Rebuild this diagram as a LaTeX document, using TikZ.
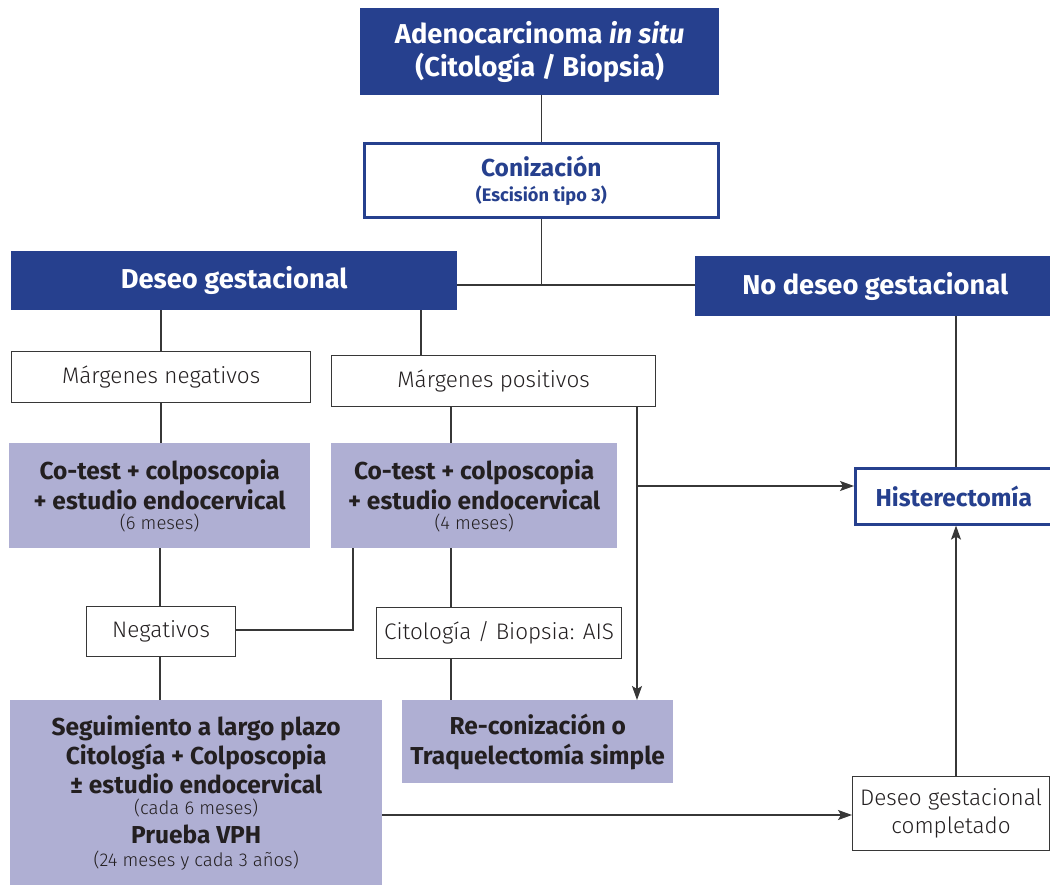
\documentclass[tikz,border=0pt]{standalone}
\usepackage{fontspec}
\setmainfont{Fira Sans}
\newfontfamily\lightfont{Fira Sans Light}
\usetikzlibrary{arrows.meta}
\definecolor{navy}{RGB}{38,64,142}
\definecolor{lav}{RGB}{175,175,211}
\definecolor{ink}{RGB}{35,31,32}
\definecolor{wire}{RGB}{55,55,55}
\newcommand{\fs}[2]{\fontsize{#1}{#2}\selectfont}
\newcommand{\smalltxt}{\lightfont\mdseries\fs{18.5}{22}}
\tikzset{
  box/.style={rectangle, inner sep=0pt, align=center, anchor=north west},
  headbox/.style={box, fill=navy, text=white, font=\bfseries\fs{27.3}{33}},
  keybox/.style={box, fill=white, draw=navy, line width=2.6pt, text=navy, font=\bfseries\fs{24.5}{30}},
  plainbox/.style={box, fill=white, draw=wire, line width=1.2pt, text=ink, font=\lightfont\fs{22.5}{28}},
  stepbox/.style={box, fill=lav, text=ink, font=\bfseries\fs{24.5}{30}},
  wireline/.style={draw=wire, line width=1.3pt},
  arrowline/.style={wireline, -{Stealth[length=14pt,width=10pt,inset=3pt]}}
}
\begin{document}
\begin{tikzpicture}[x=1pt,y=-1pt]
\useasboundingbox (0,0) rectangle (1050,885);
\fill[white] (0,0) rectangle (1050,885);

% main nodes
\node[headbox, minimum width=359, minimum height=87] (ais0) at (360,8)
  {Adenocarcinoma \textit{in situ}\\(Citología / Biopsia)};
\node[keybox, minimum width=354, minimum height=74] (coni) at (363,142)
  {Conización\\[-5pt]{\fs{18.2}{20}(Escisión tipo 3)}};
\node[headbox, minimum width=446, minimum height=59] (deseo) at (11,251) {Deseo gestacional};
\node[headbox, minimum width=360, minimum height=60] (nodeseo) at (695,256) {No deseo gestacional};

\node[plainbox, minimum width=299, minimum height=51] (neg) at (11,351) {Márgenes negativos};
\node[plainbox, minimum width=324, minimum height=51] (pos) at (331,355) {Márgenes positivos};

\node[stepbox, minimum width=301, minimum height=105] (co1) at (9,443)
  {Co-test + colposcopia\\+ estudio endocervical\\[-10pt]{\smalltxt (6 meses)}};
\node[stepbox, minimum width=286, minimum height=105] (co2) at (331,443)
  {Co-test + colposcopia\\+ estudio endocervical\\[-10pt]{\smalltxt (4 meses)}};

\node[keybox, minimum width=197, minimum height=56] (hist) at (854,467) {Histerectomía};

\node[plainbox, minimum width=149, minimum height=50] (negat) at (86,606) {Negativos};
\node[plainbox, minimum width=245, minimum height=51] (cito) at (376,607) {Citología / Biopsia: AIS};

\node[stepbox, minimum width=271, minimum height=83] (recon) at (402,700)
  {Re-conización o\\Traquelectomía simple};
\node[stepbox, minimum width=372, minimum height=186] (seg) at (10,700)
  {Seguimiento a largo plazo\\[-1pt]Citología + Colposcopia\\[-1pt]± estudio endocervical\\[-9pt]
   {\smalltxt (cada 6 meses)}\\[-1pt]Prueba VPH\\[-7pt]{\smalltxt (24 meses y cada 3 años)}};
\node[plainbox, minimum width=197, minimum height=74] (comp) at (852,776)
  {Deseo gestacional\\completado};

% guide coordinates for off-centre connectors
\coordinate (xa) at (421,0);
\coordinate (xb) at (451,0);
\coordinate (xc) at (637,0);
\coordinate (xd) at (956,0);
\coordinate (xe) at (353,0);
\coordinate (xf) at (160,0);
\coordinate (split) at (540,285);
\coordinate (fork) at (637,486);
\coordinate (bend) at (353,630);

% connectors
\draw[wireline] (ais0.south -| coni.north) -- (coni.north);
\draw[wireline] (coni.south) -- (coni.south |- split);
\draw[wireline] (deseo.east |- split) -- (nodeseo.west |- split);
\draw[wireline] (deseo.south -| neg.north) -- (neg.north);
\draw[wireline] (deseo.south -| xa) -- (pos.north -| xa);
\draw[wireline] (neg.south) -- (co1.north -| neg.south);
\draw[wireline] (pos.south -| xb) -- (co2.north -| xb);
\draw[arrowline] (pos.south -| xc) -- (recon.north -| xc);
\draw[arrowline] (fork) -- (hist.west |- fork);
\draw[wireline] (nodeseo.south -| xd) -- (hist.north -| xd);
\draw[wireline] (co1.south -| xf) -- (negat.north -| xf);
\draw[wireline] (negat.east |- bend) -- (bend) -- (co2.south -| xe);
\draw[wireline] (co2.south -| xb) -- (cito.north -| xb);
\draw[wireline] (cito.south -| xb) -- (recon.north -| xb);
\draw[wireline] (negat.south -| xf) -- (seg.north -| xf);
\draw[arrowline] (seg.east |- 0,815) -- (comp.west |- 0,815);
\draw[arrowline] (comp.north -| xd) -- (hist.south -| xd);
\end{tikzpicture}
\end{document}
